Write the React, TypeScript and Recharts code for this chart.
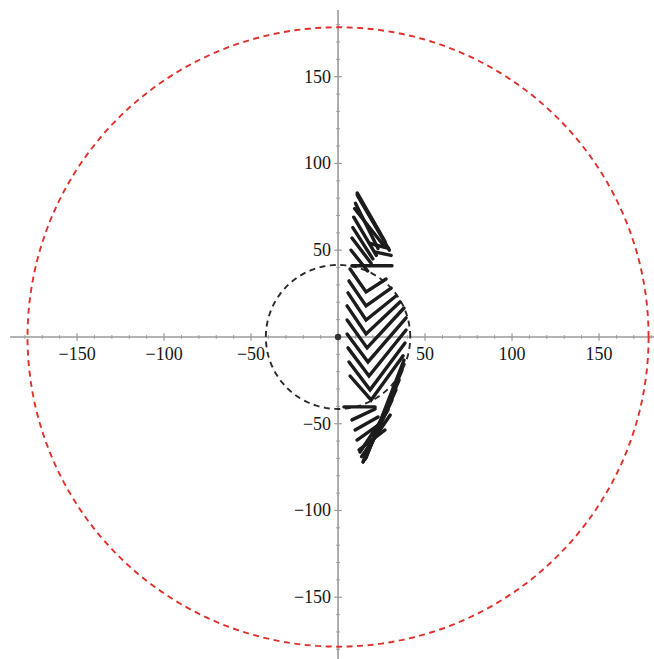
import React from "react";
import { ScatterChart, Scatter, XAxis, YAxis, ReferenceLine } from "recharts";

const W = 654;
const H = 659;
const X_DOMAIN: [number, number] = [-194.3, 181.6];
const Y_DOMAIN: [number, number] = [-185.6, 194.2];
const AXIS_X_START = -188.5;
const AXIS_Y_END = 188.5;

const xTicks = [-150, -100, -50, 50, 100, 150];
const yTicks = [-150, -100, -50, 50, 100, 150];
const minorTicks = [
  -180, -170, -160, -140, -130, -120, -110, -90, -80, -70, -60, -40, -30, -20, -10,
  10, 20, 30, 40, 60, 70, 80, 90, 110, 120, 130, 140, 160, 170, 180,
];

const outerRadius = 178.5;
const innerRadius = 41.5;

// top cluster strokes [x1, y1, x2, y2]
const topStrokes = [
  [11, 83, 27, 55],
  [11.5, 81, 29.5, 50],
  [11, 82, 24, 60],
  [10, 77, 23, 51],
  [9.5, 74, 26, 53],
  [9, 69, 22, 47],
  [8.5, 63, 20, 45],
  [8, 57, 19, 42.5],
  [7.5, 50, 17, 38],
  [18, 54, 29, 51],
  [21, 49, 30.5, 47],
  [8, 41, 31, 41],
];

// chevrons [leftX, leftY, vertexX, vertexY, rightX, rightY]
const chevrons = [
  [6.9, 39.2, 16.1, 25.9, 27.6, 33.4],
  [6.3, 32.3, 16.1, 17.9, 30.5, 28.2],
  [5.7, 25.4, 16.1, 9.8, 33.3, 23.6],
  [5.2, 17.9, 16.1, 1.7, 35.6, 20.2],
  [5.2, 9.8, 16.7, -6.3, 37.9, 16.7],
  [5.2, 1.7, 17.2, -14.4, 39.1, 11.0],
  [5.7, -6.3, 17.8, -22.5, 39.1, 4.0],
  [6.3, -14.4, 18.4, -30.5, 38.5, -3.5],
  [6.9, -22.5, 19.0, -36.3, 37.4, -10.9],
];

// bottom cluster strokes [x1, y1, x2, y2]
const bottomStrokes = [
  [3.4, -40.3, 21.3, -40.3],
  [8.0, -47.8, 21.3, -41.5],
  [9.8, -53.6, 23.0, -46.1],
  [10.9, -59.4, 24.7, -49.6],
  [12.1, -65.1, 27.0, -53.6],
  [14.4, -72.0, 31.0, -36.3],
  [14.4, -72.0, 33.3, -30.5],
  [14.9, -71.0, 35.1, -24.8],
  [15.5, -70.5, 36.8, -19.0],
  [16.1, -69.7, 37.9, -13.3],
  [12.6, -66.3, 28.7, -42.1],
  [13.5, -69.0, 30.0, -45.0],
];

const circlePoints = (r: number) =>
  Array.from({ length: 181 }, (_, i) => {
    const t = (i / 180) * 2 * Math.PI;
    return { x: r * Math.cos(t), y: r * Math.sin(t) };
  });

const noMarker = () => <g />;

const strokeLine = { stroke: "#1c1c1c", strokeWidth: 3.4, strokeLinecap: "round" };
const AXIS_COLOR = "#9a9a9a";
const FONT = "'Liberation Serif', 'DejaVu Serif', serif";

const fmt = (v: number) => (v < 0 ? `\u2212${Math.abs(v)}` : `${v}`);

const XLabel = (props: any) => (
  <text
    x={props.cx}
    y={props.cy + 23}
    textAnchor="middle"
    fontFamily={FONT}
    fontSize={18}
    fill="#151515"
  >
    {fmt(props.payload.x)}
  </text>
);

const YLabel = (props: any) => (
  <text
    x={props.cx - 7}
    y={props.cy + 6}
    textAnchor="end"
    fontFamily={FONT}
    fontSize={18}
    fill="#151515"
  >
    {fmt(props.payload.y)}
  </text>
);

const OriginDot = (props: any) => <circle cx={props.cx} cy={props.cy} r={3.2} fill="#333" />;

export default function App() {
  const segs = [
    ...topStrokes.map((s) => [{ x: s[0], y: s[1] }, { x: s[2], y: s[3] }]),
    ...chevrons.map((c) => [
      { x: c[0], y: c[1] },
      { x: c[2], y: c[3] },
      { x: c[4], y: c[5] },
    ]),
    ...bottomStrokes.map((s) => [{ x: s[0], y: s[1] }, { x: s[2], y: s[3] }]),
  ];

  return (
    <div style={{ position: "absolute", left: 0, top: 0, background: "#fff" }}>
      <ScatterChart width={W} height={H} margin={{ top: 0, right: 0, bottom: 0, left: 0 }}>
        <XAxis type="number" dataKey="x" domain={X_DOMAIN} hide allowDataOverflow />
        <YAxis type="number" dataKey="y" domain={Y_DOMAIN} hide allowDataOverflow />

        <ReferenceLine
          segment={[{ x: AXIS_X_START, y: 0 }, { x: X_DOMAIN[1], y: 0 }]}
          stroke={AXIS_COLOR}
          strokeWidth={1.6}
        />
        <ReferenceLine
          segment={[{ x: 0, y: Y_DOMAIN[0] }, { x: 0, y: AXIS_Y_END }]}
          stroke={AXIS_COLOR}
          strokeWidth={1.6}
        />
        {xTicks.map((v) => (
          <ReferenceLine
            key={`xt${v}`}
            segment={[{ x: v, y: -2.2 }, { x: v, y: 2.2 }]}
            stroke={AXIS_COLOR}
            strokeWidth={1.2}
          />
        ))}
        {yTicks.map((v) => (
          <ReferenceLine
            key={`yt${v}`}
            segment={[{ x: -2.2, y: v }, { x: 2.2, y: v }]}
            stroke={AXIS_COLOR}
            strokeWidth={1.2}
          />
        ))}
        {minorTicks.map((v) => (
          <ReferenceLine
            key={`xm${v}`}
            segment={[{ x: v, y: -1.1 }, { x: v, y: 1.1 }]}
            stroke={AXIS_COLOR}
            strokeWidth={1}
          />
        ))}
        {minorTicks.map((v) => (
          <ReferenceLine
            key={`ym${v}`}
            segment={[{ x: -1.1, y: v }, { x: 1.1, y: v }]}
            stroke={AXIS_COLOR}
            strokeWidth={1}
          />
        ))}

        <Scatter
          data={circlePoints(outerRadius)}
          shape={noMarker}
          line={{ stroke: "#e0302c", strokeWidth: 1.9, strokeDasharray: "6 4.5" }}
          isAnimationActive={false}
        />
        <Scatter
          data={circlePoints(innerRadius)}
          shape={noMarker}
          line={{ stroke: "#2a2a2a", strokeWidth: 1.9, strokeDasharray: "6 4.5" }}
          isAnimationActive={false}
        />

        {segs.map((pts, i) => (
          <Scatter
            key={`s${i}`}
            data={pts}
            shape={noMarker}
            line={strokeLine}
            isAnimationActive={false}
          />
        ))}

        <Scatter data={[{ x: 0, y: 0 }]} shape={OriginDot} isAnimationActive={false} />
        <Scatter
          data={xTicks.map((v) => ({ x: v, y: 0 }))}
          shape={XLabel}
          isAnimationActive={false}
        />
        <Scatter
          data={yTicks.map((v) => ({ x: 0, y: v }))}
          shape={YLabel}
          isAnimationActive={false}
        />
      </ScatterChart>
    </div>
  );
}
